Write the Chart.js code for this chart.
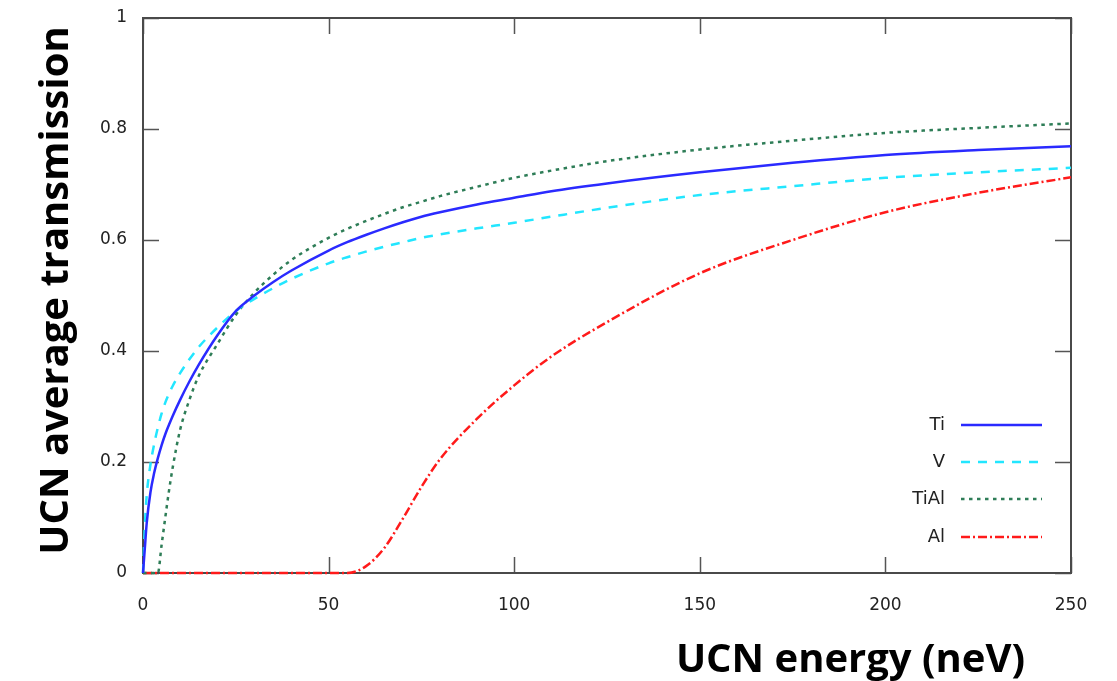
<!DOCTYPE html>
<html>
<head>
<meta charset="utf-8">
<title>UCN average transmission</title>
<script src="https://cdn.jsdelivr.net/npm/chart.js@4.4.1/dist/chart.umd.min.js"></script>
<style>
  html, body { margin: 0; padding: 0; background: #fff; }
  #wrap { width: 1117px; height: 681px; }
</style>
</head>
<body>
<div id="wrap"><canvas id="lineChart" width="1117" height="681"></canvas></div>
<script>
// values (energy in neV, average transmission)
var energies = [0, 0.5, 1, 2, 3, 4, 5, 6, 7, 8, 10, 12.5, 15, 20, 25, 30, 35, 40, 50, 55, 60, 65, 70, 75, 80, 90, 100, 110, 125, 150, 175, 200, 225, 250];
var tiValues   = [0, 0.045, 0.09, 0.145, 0.18, 0.207, 0.23, 0.25, 0.267, 0.283, 0.312, 0.345, 0.375, 0.428, 0.472, 0.500, 0.524, 0.545, 0.581, 0.596, 0.609, 0.621, 0.632, 0.642, 0.650, 0.664, 0.676, 0.688, 0.702, 0.722, 0.739, 0.753, 0.762, 0.769];
var vValues    = [0, 0.085, 0.14, 0.195, 0.232, 0.262, 0.287, 0.307, 0.323, 0.337, 0.360, 0.385, 0.407, 0.442, 0.472, 0.494, 0.513, 0.530, 0.558, 0.569, 0.579, 0.588, 0.596, 0.604, 0.610, 0.621, 0.631, 0.642, 0.658, 0.681, 0.697, 0.712, 0.722, 0.730];
var tialValues = [0, 0, 0, 0, 0, 0, 0.05, 0.10, 0.148, 0.19, 0.258, 0.312, 0.355, 0.412, 0.465, 0.505, 0.537, 0.564, 0.604, 0.620, 0.634, 0.647, 0.659, 0.669, 0.679, 0.696, 0.712, 0.725, 0.742, 0.763, 0.779, 0.793, 0.802, 0.810];
var alValues   = [0, 0, 0, 0, 0, 0, 0, 0, 0, 0, 0, 0, 0, 0, 0, 0, 0, 0, 0, 0, 0.012, 0.045, 0.098, 0.155, 0.205, 0.278, 0.338, 0.390, 0.452, 0.540, 0.600, 0.650, 0.685, 0.713];
var seriesNames = ['Ti', 'V', 'TiAl', 'Al'];
var xTicks = [0, 50, 100, 150, 200, 250];
var yTicks = [0, 0.2, 0.4, 0.6, 0.8, 1];
var xTitle = 'UCN energy (neV)';
var yTitle = 'UCN average transmission';

function points(values) {
    return energies.map(function (e, i) { return { x: e, y: values[i] }; });
}

// gnuplot style frame with inward ticks on all four sides
var frameTicks = {
    id: 'frameTicks',
    beforeDatasetsDraw: function (chart) {
        var ctx = chart.ctx, a = chart.chartArea;
        var xs = chart.scales.x, ys = chart.scales.y;
        ctx.save();
        ctx.strokeStyle = '#555';
        ctx.lineWidth = 1.5;
        ctx.beginPath();
        xTicks.forEach(function (v) {
            var px = Math.round(xs.getPixelForValue(v)) + 0.5;
            ctx.moveTo(px, a.bottom); ctx.lineTo(px, a.bottom - 16);
            ctx.moveTo(px, a.top); ctx.lineTo(px, a.top + 16);
        });
        yTicks.forEach(function (v) {
            var py = Math.round(ys.getPixelForValue(v)) + 0.5;
            ctx.moveTo(a.left, py); ctx.lineTo(a.left + 16, py);
            ctx.moveTo(a.right, py); ctx.lineTo(a.right - 16, py);
        });
        ctx.stroke();
        ctx.lineWidth = 2;
        ctx.strokeStyle = '#4a4a4a';
        ctx.strokeRect(a.left, a.top, a.right - a.left, a.bottom - a.top);
        ctx.restore();
    }
};

// key in the lower right corner of the plot
var insideLegend = {
    id: 'insideLegend',
    afterDatasetsDraw: function (chart) {
        var ctx = chart.ctx, a = chart.chartArea;
        var rows = [148, 111, 74, 36];
        ctx.save();
        ctx.font = '18px "DejaVu Sans"';
        ctx.textAlign = 'right';
        ctx.textBaseline = 'middle';
        chart.data.datasets.forEach(function (ds, i) {
            var y = a.bottom - rows[i];
            ctx.fillStyle = '#222';
            ctx.fillText(ds.label, a.right - 126, y);
            ctx.beginPath();
            ctx.strokeStyle = ds.borderColor;
            ctx.lineWidth = ds.borderWidth;
            ctx.setLineDash(ds.borderDash || []);
            ctx.moveTo(a.right - 110, y);
            ctx.lineTo(a.right - 29, y);
            ctx.stroke();
        });
        ctx.restore();
    }
};

var axisTitles = {
    id: 'axisTitles',
    afterDraw: function (chart) {
        var ctx = chart.ctx, a = chart.chartArea;
        ctx.save();
        ctx.fillStyle = '#000';
        ctx.font = 'bold 40px "Open Sans"';
        ctx.textAlign = 'right';
        ctx.textBaseline = 'alphabetic';
        ctx.fillText(xTitle, a.right - 46, a.bottom + 99);
        ctx.translate(57, (a.top + a.bottom) / 2 - 5);
        ctx.rotate(-Math.PI / 2);
        ctx.textAlign = 'center';
        ctx.textBaseline = 'middle';
        ctx.fillText(yTitle, 0, 0);
        ctx.restore();
    }
};

var tickFont = { family: 'DejaVu Sans', size: 17 };

var ctx = document.getElementById('lineChart').getContext('2d');
var myChart = new Chart(ctx, {
    type: 'line',
    data: {
        datasets: [{
            label: seriesNames[0],
            data: points(tiValues),
            borderColor: '#2a2aff',
            borderWidth: 2.5
        }, {
            label: seriesNames[1],
            data: points(vValues),
            borderColor: '#22e6ff',
            borderWidth: 2.5,
            borderDash: [9, 8]
        }, {
            label: seriesNames[2],
            data: points(tialValues),
            borderColor: '#2e7d57',
            borderWidth: 2.5,
            borderDash: [3.5, 4.5]
        }, {
            label: seriesNames[3],
            data: points(alValues),
            borderColor: '#ff1a1a',
            borderWidth: 2.5,
            borderDash: [9, 3, 2, 3]
        }]
    },
    options: {
        responsive: false,
        animation: false,
        devicePixelRatio: 1,
        layout: { padding: { left: 0, right: 46, top: 18, bottom: 0 } },
        elements: {
            point: { radius: 0, hoverRadius: 0 },
            line: { cubicInterpolationMode: 'monotone', fill: false }
        },
        datasets: { line: { clip: 6 } },
        plugins: {
            legend: { display: false },
            tooltip: { enabled: false }
        },
        scales: {
            x: {
                type: 'linear',
                min: 0,
                max: 250,
                afterBuildTicks: function (s) { s.ticks = xTicks.map(function (v) { return { value: v }; }); },
                ticks: { padding: 22, color: '#222', font: tickFont, maxRotation: 0,
                    callback: function (v) { return String(v); } },
                grid: { display: false, drawTicks: false },
                border: { display: false },
                afterFit: function (s) { s.height = 108; s.paddingLeft = 0; s.paddingRight = 0; }
            },
            y: {
                min: 0,
                max: 1,
                afterBuildTicks: function (s) { s.ticks = yTicks.map(function (v) { return { value: v }; }); },
                ticks: { padding: 16, color: '#222', font: tickFont,
                    callback: function (v) { return String(v); } },
                grid: { display: false, drawTicks: false },
                border: { display: false },
                afterFit: function (s) { s.width = 143; s.paddingTop = 0; s.paddingBottom = 0; }
            }
        }
    },
    plugins: [frameTicks, insideLegend, axisTitles]
});
</script>
</body>
</html>
